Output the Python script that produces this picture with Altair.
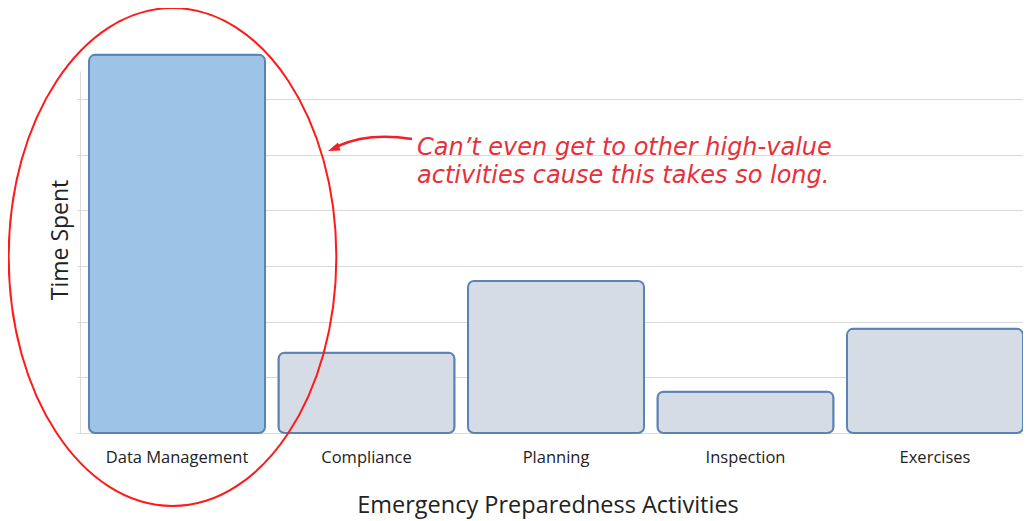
import altair as alt
import pandas as pd

categories = ["Data Management", "Compliance", "Planning", "Inspection", "Exercises"]
time_spent = [6.79, 1.44, 2.73, 0.74, 1.87]
groups = ["highlight", "other", "other", "other", "other"]
y_ticks = [0, 1, 2, 3, 4, 5, 6]
note_lines = ["Can\u2019t even get to other high-value", "activities cause this takes so long."]

df = pd.DataFrame({"activity": categories, "time": time_spent, "group": groups})
anno = pd.DataFrame({"k": [0]})

GRID = "#d9d9d9"
TXT = "#222222"

bars = alt.Chart(df).mark_bar(cornerRadius=6, strokeWidth=2, stroke="#5b84b4").encode(
    x=alt.X("activity:N", sort=categories,
            scale=alt.Scale(paddingInner=0.0712, paddingOuter=0.0238, align=1, round=False),
            axis=alt.Axis(title="Emergency Preparedness Activities", labelAngle=0, ticks=False,
                          labelPadding=16, labelFont="Open Sans", labelFontSize=16.5, labelColor=TXT,
                          titleFont="Open Sans", titleFontSize=23.5, titleFontWeight="normal",
                          titleColor=TXT, titleX=467.5, titleY=79, titleBaseline="alphabetic",
                          domainColor=GRID, grid=False)),
    y=alt.Y("time:Q", scale=alt.Scale(domain=[0, 6.5], nice=False, zero=True),
            axis=alt.Axis(title="Time Spent", values=y_ticks, labels=False, tickSize=3,
                          tickColor=GRID, domainColor=GRID, gridColor=GRID, grid=True,
                          titleFont="Open Sans", titleFontSize=23, titleFontWeight="normal",
                          titleColor=TXT, titleX=-13, titleY=168.5, titleBaseline="alphabetic")),
    fill=alt.Fill("group:N", scale=alt.Scale(domain=["highlight", "other"],
                                             range=["#9dc3e6", "#d6dce5"]), legend=None),
)

ellipse_path = ("M -0.658 0 C -0.658 -0.5523 -0.3634 -1 0 -1 C 0.3634 -1 0.658 -0.5523 0.658 0 "
                "C 0.658 0.5523 0.3634 1 0 1 C -0.3634 1 -0.658 0.5523 -0.658 0 Z")
ellipse = alt.Chart(anno).mark_point(shape=ellipse_path, size=248000, filled=False,
                                     color="#ff1a1a", strokeWidth=2, opacity=1).encode(
    x=alt.value(92.5), y=alt.value(186))

shaft = alt.Chart(anno).mark_point(shape="M 0 0 C -25 -4 -52 -3 -74 7", size=4, filled=False,
                                   color="#f0202a", strokeWidth=2.5, opacity=1).encode(
    x=alt.value(332), y=alt.value(68))
head = alt.Chart(anno).mark_point(shape="M -84 12 L -74 3.5 L -71.5 11.5 Z", size=4, filled=True,
                                  color="#f0202a", opacity=1).encode(
    x=alt.value(332), y=alt.value(68))

note = alt.Chart(anno).mark_text(text=note_lines, align="left", baseline="alphabetic",
                                 font="DejaVu Sans", fontStyle="italic", fontSize=24, lineHeight=28,
                                 color="#e8303a").encode(
    x=alt.value(337), y=alt.value(84))

chart = alt.layer(bars, ellipse, shaft, head, note).properties(
    width=943, height=362,
    autosize=alt.AutoSizeParams(type="none"),
    padding={"left": 72, "top": 63, "right": 0, "bottom": 88},
).configure_view(stroke=None)

chart.save("out.html", embed_options={"renderer": "svg", "actions": False})
